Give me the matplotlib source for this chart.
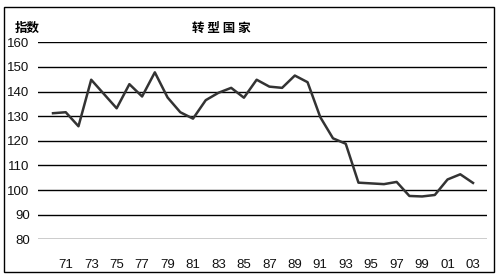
import matplotlib.pyplot as plt
from matplotlib.patches import Rectangle

plt.rcParams['font.family'] = ['Liberation Sans', 'Noto Sans CJK SC', 'DejaVu Sans']

# 转型国家 index, 1970-2003
years = list(range(1970, 2004))
index = [131.2, 131.6, 125.9, 144.8, 139.0, 133.2, 143.0, 138.0, 147.8, 137.6,
         131.6, 129.0, 136.5, 139.5, 141.5, 137.5, 144.8, 142.0, 141.5, 146.5,
         143.8, 129.6, 121.0, 118.8, 103.0, 102.7, 102.4, 103.3, 97.6, 97.4,
         98.0, 104.3, 106.4, 102.9]
tick_years = list(range(1971, 2004, 2))
tick_labels = ["%02d" % (y % 100) for y in tick_years]
y_ticks = list(range(80, 161, 10))

W, H = 502, 279
fig = plt.figure(figsize=(W / 100, H / 100), dpi=100)
fig.set(facecolor="white")

# frame around the whole chart
fig.patches.append(Rectangle((4 / W, 1 - 272 / H), 490 / W, 265 / H,
                             transform=fig.transFigure, fill=False,
                             edgecolor="black", linewidth=1.0))

ax = fig.add_axes([38 / W, 1 - 239.3 / H, 449 / W, 197 / H])
ax.plot(years, index, color="#333333", linewidth=1.8, solid_joinstyle="round")

ax.set_xlim(1968.82, 2004.1)
ax.set_ylim(80, 160)
ax.set_yticks(y_ticks)
ax.set_xticks(tick_years)
ax.set_xticklabels(tick_labels)
for v in y_ticks:
    ax.axhline(v, color="black", linewidth=1.0, zorder=0)

for s in ax.spines.values():
    s.set_visible(False)
ax.tick_params(axis="both", length=0, labelsize=9.5, colors="#111111")
ax.tick_params(axis="y", pad=6)
ax.tick_params(axis="x", pad=14)

fig.text(15 / W, 1 - 28 / H, "指数", fontsize=9, family=['Noto Sans CJK SC'],
         va="center", ha="left", fontweight="bold")
fig.text(221 / W, 1 - 28 / H, "转 型 国 家", fontsize=9,
         family=['Noto Sans CJK SC'], va="center", ha="center", fontweight="bold")

fig.savefig("out.png", dpi=100)
